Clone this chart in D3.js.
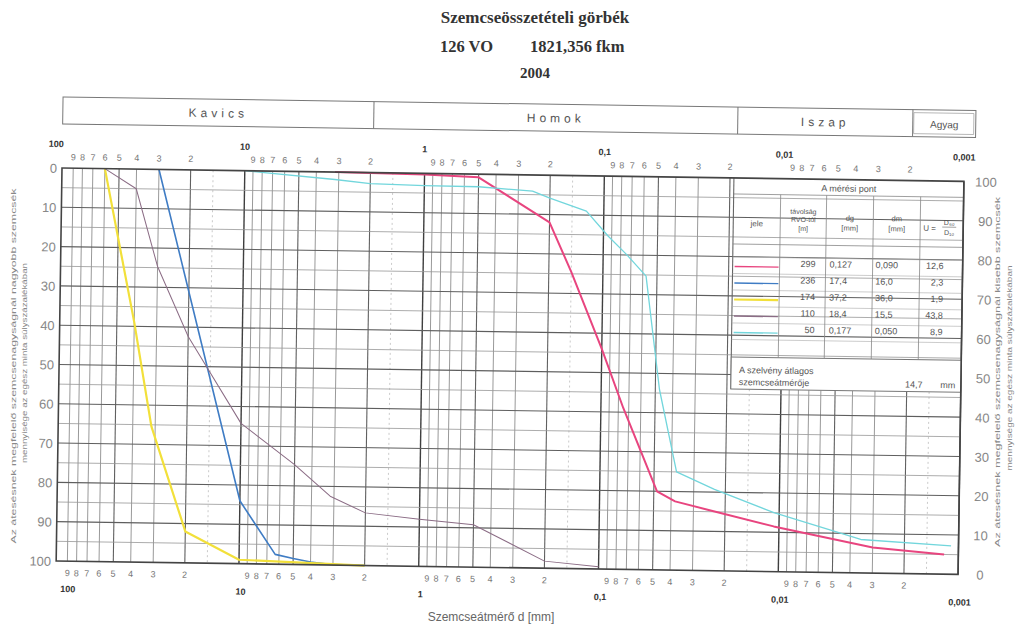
<!DOCTYPE html>
<html><head><meta charset="utf-8">
<script src="https://cdn.jsdelivr.net/npm/d3@7"></script>
<style>body{margin:0;background:#fff}svg{display:block}text{font-family:"Liberation Sans",Arial,sans-serif}</style>
</head><body><svg id="c" width="1016" height="625"></svg>
<script>
// ---------------- data ----------------
const titleLines = ["Szemcseösszetételi görbék", "126 VO", "1821,356 fkm", "2004"];
const decadeValues = [100, 10, 1, 0.1, 0.01, 0.001];
const decadeLabels = ["100", "10", "1", "0,1", "0,01", "0,001"];
const minorDigits = [9, 8, 7, 6, 5, 4, 3, 2];
const leftTicks = [0, 10, 20, 30, 40, 50, 60, 70, 80, 90, 100];
const rightTicks = [100, 90, 80, 70, 60, 50, 40, 30, 20, 10, 0];
const fractionNames = ["Kavics", "Homok", "Iszap", "Agyag"];
const sampleDist = ["299", "236", "174", "110", "50"];
const sampleDg = ["0,127", "17,4", "37,2", "18,4", "0,177"];
const sampleDm = ["0,090", "16,0", "36,0", "15,5", "0,050"];
const sampleU = ["12,6", "2,3", "1,9", "43,8", "8,9"];
const meanDiameter = "14,7";
const sampleColors = ["#e8457f", "#3f7cc4", "#f2e03a", "#8b6c85", "#72d6dc"];

// grain size (mm) and value on left axis (%)
const d299 = [3.15, 1, 0.5, 0.2, 0.15, 0.1, 0.075, 0.06, 0.048, 0.038, 0.025, 0.0107, 0.003, 0.0012];
const p299 = [0, 0.3, 0.8, 12, 24.5, 44, 59, 69.5, 80, 82.5, 84.5, 88.5, 93.5, 95];
const d236 = [30, 20, 10, 6.3, 5, 4, 3.15, 2];
const p236 = [0, 31, 84, 97.5, 98.5, 99.3, 99.8, 100];
const d174 = [60, 40, 31.5, 20, 10, 2];
const p174 = [0, 39, 65.4, 92, 99, 100];
const d110 = [60, 40, 30, 20, 10, 5, 3.15, 2, 1, 0.5, 0.2, 0.1];
const p110 = [0, 5, 24.7, 42.4, 64.3, 74.6, 82.5, 86.6, 88, 89.2, 98.2, 99.4];
const d50 = [10, 3.15, 2, 1, 0.5, 0.25, 0.2, 0.125, 0.094, 0.074, 0.0575, 0.0474, 0.0375, 0.023, 0.0107, 0.0035, 0.0011];
const p50 = [0, 1.9, 2.8, 3.1, 3.2, 4.1, 5.8, 9, 15.3, 19.9, 25.3, 54.1, 75, 79.3, 85, 91.5, 92.8];

const series = [
  {d: d299, p: p299, w: 2},
  {d: d236, p: p236, w: 1.6},
  {d: d174, p: p174, w: 2.2},
  {d: d110, p: p110, w: 1},
  {d: d50, p: p50, w: 1.3}
];

// ---------------- layout ----------------
const W = 902, H = 393;
const svg = d3.select("#c");
const TXT = "#555";

const serif = "'Liberation Serif',serif";
svg.append("text").attr("x", 535).attr("y", 23).attr("text-anchor", "middle")
  .style("font-family", serif).style("font-weight", "bold").style("font-size", "17px").attr("fill", "#333").text(titleLines[0]);
svg.append("text").attr("x", 440).attr("y", 52)
  .style("font-family", serif).style("font-weight", "bold").style("font-size", "16.5px").attr("fill", "#333").text(titleLines[1]);
svg.append("text").attr("x", 530).attr("y", 52)
  .style("font-family", serif).style("font-weight", "bold").style("font-size", "16.5px").attr("fill", "#333").text(titleLines[2]);
svg.append("text").attr("x", 535).attr("y", 78).attr("text-anchor", "middle")
  .style("font-family", serif).style("font-weight", "bold").style("font-size", "15px").attr("fill", "#333").text(titleLines[3]);

const g = svg.append("g").attr("transform", "translate(62,168) rotate(0.85)");
const x = d3.scaleLog().domain([100, 0.001]).range([3, 902]);
const y = d3.scaleLinear().domain([0, 100]).range([0, H]);
const yR = d3.scaleLinear().domain([100, 0]).range([0, H]);

const TX = 672, TR = W, CAP0 = 179, CAP1 = 211;

// fraction header box
const hb = g.append("g");
const HB0 = -71, HB1 = -44, HBR = 913;
const divs = [0, 311, 675, 850, HBR];
hb.append("rect").attr("x", 0).attr("y", HB0).attr("width", HBR).attr("height", HB1 - HB0)
  .attr("fill", "none").attr("stroke", "#777").attr("stroke-width", 1);
divs.slice(1, 4).forEach(u => hb.append("line").attr("x1", u).attr("x2", u).attr("y1", HB0).attr("y2", HB1).attr("stroke", "#777"));
fractionNames.forEach((n, i) => {
  const cx = (divs[i] + divs[i + 1]) / 2;
  hb.append("text").attr("x", cx).attr("y", HB0 + 18).attr("text-anchor", "middle")
    .style("font-size", i === 3 ? "10px" : "12px").style("letter-spacing", i === 3 ? "0px" : "4px")
    .attr("fill", "#555").text(n);
});
hb.append("rect").attr("x", divs[3] + 1).attr("y", HB0 + 3).attr("width", HBR - divs[3] - 3).attr("height", HB1 - HB0 - 6)
  .attr("fill", "none").attr("stroke", "#999").attr("stroke-width", 0.7);

// vertical grid
const gridVals = x.ticks().filter(v => v < 99);
gridVals.forEach(v => {
  const e = Math.floor(Math.log10(v) + 1e-9);
  const m = Math.round(v / Math.pow(10, e));
  const u = x(v);
  const inTable = u > TX - 1 && u < TR - 1;
  let col = "#8e8e8e", sw = 0.9;
  if (m === 1) { col = "#3f3f3f"; sw = 1.4; }
  else if (m === 2 || m === 5) { col = "#606060"; sw = 1.1; }
  g.append("line").attr("x1", u).attr("x2", u).attr("y1", inTable ? CAP1 : 0).attr("y2", H)
    .attr("stroke", col).attr("stroke-width", sw);
});
decadeValues.slice(1).forEach(b => {
  const u = x(1.5 * b);
  const inTable = u > TX - 1;
  g.append("line").attr("x1", u).attr("x2", u).attr("y1", inTable ? CAP1 : 0).attr("y2", H)
    .attr("stroke", "#bdbdbd").attr("stroke-width", 0.8).attr("stroke-dasharray", "2,3");
});
// horizontal grid
d3.range(5, 100, 5).forEach(v => {
  const major = v % 10 === 0;
  g.append("line").attr("x1", 0).attr("x2", W).attr("y1", y(v)).attr("y2", y(v))
    .attr("stroke", major ? "#5e5e5e" : "#989898").attr("stroke-width", major ? 1.1 : 0.8);
});

// curves
const line = d3.line().x(d => x(d[0])).y(d => y(d[1]));
series.forEach((s, i) => {
  g.append("path").attr("d", line(s.d.map((dv, k) => [dv, s.p[k]])))
    .attr("fill", "none").attr("stroke", sampleColors[i]).attr("stroke-width", s.w).attr("stroke-linejoin", "round");
});

// table
const tb = g.append("g");
const cols = [TX, 719, 765, 812, 859, TR];
const rowTop = [79, 95.5, 112, 128.5, 145];
const tl = (x1, y1, x2, y2, c, w) => tb.append("line").attr("x1", x1).attr("y1", y1).attr("x2", x2).attr("y2", y2).attr("stroke", c || "#888").attr("stroke-width", w || 0.8);
tl(TX, 0, TX, CAP1, "#666", 1.1);
tl(TX, 16, TR, 16);
tl(TX, 66, TR, 66);
tl(TX, 79, TR, 79, "#aaa", 0.7);
[95.5, 112, 128.5, 145, 161.5].forEach(v => tl(TX, v, TR, v, "#aaa", 0.6));
cols.slice(1, 5).forEach(u => tl(u, 16, u, CAP0, "#888", 0.8));
tb.append("rect").attr("x", TX).attr("y", CAP0).attr("width", TR - TX).attr("height", CAP1 - CAP0)
  .attr("fill", "#fff").attr("stroke", "#777").attr("stroke-width", 1);
tb.append("text").attr("x", (TX + TR) / 2).attr("y", 12).attr("text-anchor", "middle").style("font-size", "9px").attr("fill", TXT).text("A mérési pont");
tb.append("text").attr("x", (cols[0] + cols[1]) / 2).attr("y", 48).attr("text-anchor", "middle").style("font-size", "8px").attr("fill", TXT).text("jele");
[["távolság", 35], ["RVO-tól", 43], ["[m]", 52]].forEach(([t, v]) =>
  tb.append("text").attr("x", (cols[1] + cols[2]) / 2).attr("y", v).attr("text-anchor", "middle").style("font-size", "7px").attr("fill", TXT).text(t));
[["dg", 41], ["[mm]", 51]].forEach(([t, v]) =>
  tb.append("text").attr("x", (cols[2] + cols[3]) / 2).attr("y", v).attr("text-anchor", "middle").style("font-size", "7.5px").attr("fill", TXT).text(t));
[["dm", 41], ["[mm]", 51]].forEach(([t, v]) =>
  tb.append("text").attr("x", (cols[3] + cols[4]) / 2).attr("y", v).attr("text-anchor", "middle").style("font-size", "7.5px").attr("fill", TXT).text(t));
tb.append("text").attr("x", 862).attr("y", 50).style("font-size", "8px").attr("fill", TXT).text("U =");
tb.append("text").attr("x", 888).attr("y", 44).attr("text-anchor", "middle").style("font-size", "7px").attr("fill", TXT).text("D₆₀");
tl(881, 46, 895, 46, "#666", 0.6);
tb.append("text").attr("x", 888).attr("y", 54).attr("text-anchor", "middle").style("font-size", "7px").attr("fill", TXT).text("D₁₀");

sampleDist.forEach((s, i) => {
  const t0 = rowTop[i];
  tl(TX + 2, t0 + 9.5, cols[1] - 1, t0 + 9.5, sampleColors[i], i === 2 ? 2.2 : 1.4);
  tb.append("text").attr("x", 755).attr("y", t0 + 9).attr("text-anchor", "end").style("font-size", "9px").attr("fill", TXT).text(s);
  tb.append("text").attr("x", 769).attr("y", t0 + 9).style("font-size", "9px").attr("fill", TXT).text(sampleDg[i]);
  tb.append("text").attr("x", 815).attr("y", t0 + 9).style("font-size", "9px").attr("fill", TXT).text(sampleDm[i]);
  tb.append("text").attr("x", 883).attr("y", t0 + 9).attr("text-anchor", "end").style("font-size", "9px").attr("fill", TXT).text(sampleU[i]);
});
tb.append("text").attr("x", 680).attr("y", 195).style("font-size", "9px").attr("fill", TXT).text("A szelvény átlagos");
tb.append("text").attr("x", 680).attr("y", 207).style("font-size", "9px").attr("fill", TXT).text("szemcseátmérője");
tb.append("text").attr("x", 855).attr("y", 207).attr("text-anchor", "middle").style("font-size", "9px").attr("fill", TXT).text(meanDiameter);
tb.append("text").attr("x", 889).attr("y", 207).attr("text-anchor", "middle").style("font-size", "9px").attr("fill", TXT).text("mm");

// plot border
g.append("rect").attr("x", 0).attr("y", 0).attr("width", W).attr("height", H)
  .attr("fill", "none").attr("stroke", "#444").attr("stroke-width", 1.6);

// x tick labels top and bottom
decadeValues.forEach((v, i) => {
  g.append("text").attr("x", x(v) + (i === 0 ? -9 : 0)).attr("y", -21).attr("text-anchor", "middle")
    .style("font-size", "9px").style("font-weight", "bold").attr("fill", "#333").text(decadeLabels[i]);
  g.append("text").attr("x", x(v) + (i === 0 ? 9 : 2)).attr("y", 424).attr("text-anchor", "middle")
    .style("font-size", "9px").style("font-weight", "bold").attr("fill", "#333").text(decadeLabels[i]);
});
decadeValues.slice(0, 5).forEach(b => {
  minorDigits.forEach(m => {
    const v = m * b / 10;
    g.append("text").attr("x", x(v)).attr("y", -8).attr("text-anchor", "middle")
      .style("font-size", "9px").attr("fill", "#777").text(m);
    g.append("text").attr("x", x(v)).attr("y", 408).attr("text-anchor", "middle")
      .style("font-size", "9px").attr("fill", "#777").text(m);
  });
});
// y tick labels
leftTicks.forEach(v => g.append("text").attr("x", -5).attr("y", y(v) + 5).attr("text-anchor", "end")
  .style("font-size", "13px").attr("fill", "#888").text(v));
rightTicks.forEach(v => g.append("text").attr("x", 924).attr("y", yR(v) + 5).attr("text-anchor", "middle")
  .style("font-size", "13px").attr("fill", "#888").text(v));

// axis titles
svg.append("text").attr("x", 491).attr("y", 621).attr("text-anchor", "middle").style("font-size", "12px").attr("fill", "#666").text("Szemcseátmérő d [mm]");
const vt = (xx, yy, len, t) => svg.append("text").attr("transform", `translate(${xx},${yy}) rotate(-90)`).attr("text-anchor", "middle")
  .attr("textLength", len).attr("lengthAdjust", "spacingAndGlyphs").style("font-size", "8px").attr("fill", "#888").text(t);
vt(16, 366, 355, "Az átesésnek megfelelő szemcsenagyságnál nagyobb szemcsék");
vt(27, 363, 200, "mennyisége az egész minta súlyszázalékában");
vt(1000, 372, 350, "Az átesésnek megfelelő szemcsenagyságnál kisebb szemcsék");
vt(1012, 368, 205, "mennyisége az egész minta súlyszázalékában");
</script></body></html>
